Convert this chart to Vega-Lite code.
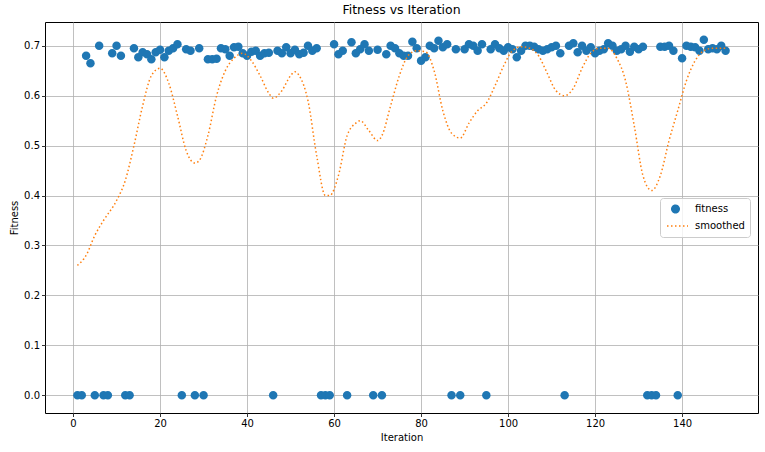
{
  "$schema": "https://vega.github.io/schema/vega-lite/v6.json",
  "width": 713,
  "height": 391,
  "autosize": {"type": "none"},
  "padding": {"left": 45, "top": 22, "right": 7, "bottom": 39},
  "title": {"text": "Fitness vs Iteration", "fontSize": 12.5, "fontWeight": "normal", "font": "DejaVu Sans", "offset": 6, "color": "black"},
  "config": {
    "view": {"stroke": "black", "strokeWidth": 1},
    "font": "DejaVu Sans",
    "axis": {"domain": false, "grid": true, "gridColor": "#b0b0b0", "gridWidth": 0.8, "tickColor": "black", "tickSize": 3.5, "tickWidth": 0.8, "labelFontSize": 10, "labelColor": "black", "titleFontSize": 10, "titleFontWeight": "normal", "titleColor": "black", "labelFont": "DejaVu Sans", "titleFont": "DejaVu Sans"},
    "legend": {"orient": "none", "legendX": 615, "legendY": 176, "fillColor": "rgba(255,255,255,0.8)", "strokeColor": "#cccccc", "cornerRadius": 3, "padding": 5, "labelFontSize": 10, "labelColor": "black", "labelFont": "DejaVu Sans", "labelOffset": 6, "symbolOffset": -3, "symbolSize": 625, "symbolStrokeWidth": 1.5, "clipHeight": 12, "rowPadding": 5}
  },
  "datasets": {
    "points": [
      {"iteration": 1, "fitness": 0}, {"iteration": 2, "fitness": 0}, {"iteration": 3, "fitness": 0.68}, {"iteration": 4, "fitness": 0.665},
      {"iteration": 5, "fitness": 0}, {"iteration": 6, "fitness": 0.70}, {"iteration": 7, "fitness": 0}, {"iteration": 8, "fitness": 0},
      {"iteration": 9, "fitness": 0.685}, {"iteration": 10, "fitness": 0.70}, {"iteration": 11, "fitness": 0.68}, {"iteration": 12, "fitness": 0},
      {"iteration": 13, "fitness": 0}, {"iteration": 14, "fitness": 0.695}, {"iteration": 15, "fitness": 0.677}, {"iteration": 16, "fitness": 0.687},
      {"iteration": 17, "fitness": 0.683}, {"iteration": 18, "fitness": 0.673}, {"iteration": 19, "fitness": 0.687}, {"iteration": 20, "fitness": 0.692},
      {"iteration": 21, "fitness": 0.677}, {"iteration": 22, "fitness": 0.69}, {"iteration": 23, "fitness": 0.695}, {"iteration": 24, "fitness": 0.703},
      {"iteration": 25, "fitness": 0}, {"iteration": 26, "fitness": 0.693}, {"iteration": 27, "fitness": 0.69}, {"iteration": 28, "fitness": 0},
      {"iteration": 29, "fitness": 0.695}, {"iteration": 30, "fitness": 0}, {"iteration": 31, "fitness": 0.673}, {"iteration": 32, "fitness": 0.673},
      {"iteration": 33, "fitness": 0.674}, {"iteration": 34, "fitness": 0.695}, {"iteration": 35, "fitness": 0.693}, {"iteration": 36, "fitness": 0.68},
      {"iteration": 37, "fitness": 0.697}, {"iteration": 38, "fitness": 0.698}, {"iteration": 39, "fitness": 0.685}, {"iteration": 40, "fitness": 0.68},
      {"iteration": 41, "fitness": 0.688}, {"iteration": 42, "fitness": 0.69}, {"iteration": 43, "fitness": 0.68}, {"iteration": 44, "fitness": 0.685},
      {"iteration": 45, "fitness": 0.686}, {"iteration": 46, "fitness": 0}, {"iteration": 47, "fitness": 0.69}, {"iteration": 48, "fitness": 0.685},
      {"iteration": 49, "fitness": 0.697}, {"iteration": 50, "fitness": 0.685}, {"iteration": 51, "fitness": 0.692}, {"iteration": 52, "fitness": 0.683},
      {"iteration": 53, "fitness": 0.686}, {"iteration": 54, "fitness": 0.70}, {"iteration": 55, "fitness": 0.69}, {"iteration": 56, "fitness": 0.695},
      {"iteration": 57, "fitness": 0}, {"iteration": 58, "fitness": 0}, {"iteration": 59, "fitness": 0}, {"iteration": 60, "fitness": 0.703},
      {"iteration": 61, "fitness": 0.683}, {"iteration": 62, "fitness": 0.69}, {"iteration": 63, "fitness": 0}, {"iteration": 64, "fitness": 0.707},
      {"iteration": 65, "fitness": 0.685}, {"iteration": 66, "fitness": 0.693}, {"iteration": 67, "fitness": 0.703}, {"iteration": 68, "fitness": 0.69},
      {"iteration": 69, "fitness": 0}, {"iteration": 70, "fitness": 0.692}, {"iteration": 71, "fitness": 0}, {"iteration": 72, "fitness": 0.683},
      {"iteration": 73, "fitness": 0.70}, {"iteration": 74, "fitness": 0.695}, {"iteration": 75, "fitness": 0.685}, {"iteration": 76, "fitness": 0.68},
      {"iteration": 77, "fitness": 0.68}, {"iteration": 78, "fitness": 0.708}, {"iteration": 79, "fitness": 0.695}, {"iteration": 80, "fitness": 0.67},
      {"iteration": 81, "fitness": 0.677}, {"iteration": 82, "fitness": 0.70}, {"iteration": 83, "fitness": 0.695}, {"iteration": 84, "fitness": 0.71},
      {"iteration": 85, "fitness": 0.697}, {"iteration": 86, "fitness": 0.703}, {"iteration": 87, "fitness": 0}, {"iteration": 88, "fitness": 0.693},
      {"iteration": 89, "fitness": 0}, {"iteration": 90, "fitness": 0.693}, {"iteration": 91, "fitness": 0.703}, {"iteration": 92, "fitness": 0.70},
      {"iteration": 93, "fitness": 0.69}, {"iteration": 94, "fitness": 0.703}, {"iteration": 95, "fitness": 0}, {"iteration": 96, "fitness": 0.693},
      {"iteration": 97, "fitness": 0.703}, {"iteration": 98, "fitness": 0.695}, {"iteration": 99, "fitness": 0.69}, {"iteration": 100, "fitness": 0.697},
      {"iteration": 101, "fitness": 0.693}, {"iteration": 102, "fitness": 0.677}, {"iteration": 103, "fitness": 0.69}, {"iteration": 104, "fitness": 0.70},
      {"iteration": 105, "fitness": 0.70}, {"iteration": 106, "fitness": 0.698}, {"iteration": 107, "fitness": 0.693}, {"iteration": 108, "fitness": 0.69},
      {"iteration": 109, "fitness": 0.693}, {"iteration": 110, "fitness": 0.697}, {"iteration": 111, "fitness": 0.70}, {"iteration": 112, "fitness": 0.685},
      {"iteration": 113, "fitness": 0}, {"iteration": 114, "fitness": 0.70}, {"iteration": 115, "fitness": 0.705}, {"iteration": 116, "fitness": 0.687},
      {"iteration": 117, "fitness": 0.70}, {"iteration": 118, "fitness": 0.69}, {"iteration": 119, "fitness": 0.697}, {"iteration": 120, "fitness": 0.685},
      {"iteration": 121, "fitness": 0.69}, {"iteration": 122, "fitness": 0.693}, {"iteration": 123, "fitness": 0.705}, {"iteration": 124, "fitness": 0.70},
      {"iteration": 125, "fitness": 0.69}, {"iteration": 126, "fitness": 0.693}, {"iteration": 127, "fitness": 0.70}, {"iteration": 128, "fitness": 0.688},
      {"iteration": 129, "fitness": 0.698}, {"iteration": 130, "fitness": 0.693}, {"iteration": 131, "fitness": 0.698}, {"iteration": 132, "fitness": 0},
      {"iteration": 133, "fitness": 0}, {"iteration": 134, "fitness": 0}, {"iteration": 135, "fitness": 0.698}, {"iteration": 136, "fitness": 0.698},
      {"iteration": 137, "fitness": 0.70}, {"iteration": 138, "fitness": 0.69}, {"iteration": 139, "fitness": 0}, {"iteration": 140, "fitness": 0.675},
      {"iteration": 141, "fitness": 0.70}, {"iteration": 142, "fitness": 0.698}, {"iteration": 143, "fitness": 0.697}, {"iteration": 144, "fitness": 0.69},
      {"iteration": 145, "fitness": 0.712}, {"iteration": 146, "fitness": 0.693}, {"iteration": 147, "fitness": 0.695}, {"iteration": 148, "fitness": 0.693},
      {"iteration": 149, "fitness": 0.70}, {"iteration": 150, "fitness": 0.69}
    ],
    "smooth": [
      {"iteration": 1, "smoothed": 0.26}, {"iteration": 3, "smoothed": 0.28}, {"iteration": 5, "smoothed": 0.32}, {"iteration": 7, "smoothed": 0.35},
      {"iteration": 10, "smoothed": 0.39}, {"iteration": 12, "smoothed": 0.43}, {"iteration": 14, "smoothed": 0.50}, {"iteration": 16, "smoothed": 0.58},
      {"iteration": 18, "smoothed": 0.64}, {"iteration": 20, "smoothed": 0.655}, {"iteration": 22, "smoothed": 0.625}, {"iteration": 24, "smoothed": 0.56},
      {"iteration": 26, "smoothed": 0.49}, {"iteration": 28, "smoothed": 0.465}, {"iteration": 29, "smoothed": 0.47}, {"iteration": 31, "smoothed": 0.52},
      {"iteration": 33, "smoothed": 0.60}, {"iteration": 35, "smoothed": 0.65}, {"iteration": 37, "smoothed": 0.675}, {"iteration": 39, "smoothed": 0.685},
      {"iteration": 41, "smoothed": 0.67}, {"iteration": 43, "smoothed": 0.64}, {"iteration": 45, "smoothed": 0.605}, {"iteration": 46, "smoothed": 0.595},
      {"iteration": 48, "smoothed": 0.61}, {"iteration": 50, "smoothed": 0.64}, {"iteration": 51, "smoothed": 0.648}, {"iteration": 52, "smoothed": 0.64},
      {"iteration": 54, "smoothed": 0.59}, {"iteration": 56, "smoothed": 0.48}, {"iteration": 58, "smoothed": 0.40}, {"iteration": 59, "smoothed": 0.40},
      {"iteration": 61, "smoothed": 0.44}, {"iteration": 63, "smoothed": 0.52}, {"iteration": 65, "smoothed": 0.545}, {"iteration": 66, "smoothed": 0.55},
      {"iteration": 68, "smoothed": 0.53}, {"iteration": 70, "smoothed": 0.51}, {"iteration": 71, "smoothed": 0.52}, {"iteration": 73, "smoothed": 0.58},
      {"iteration": 75, "smoothed": 0.64}, {"iteration": 77, "smoothed": 0.68}, {"iteration": 79, "smoothed": 0.69}, {"iteration": 81, "smoothed": 0.688},
      {"iteration": 83, "smoothed": 0.65}, {"iteration": 85, "smoothed": 0.57}, {"iteration": 87, "smoothed": 0.525}, {"iteration": 89, "smoothed": 0.515},
      {"iteration": 91, "smoothed": 0.545}, {"iteration": 93, "smoothed": 0.57}, {"iteration": 95, "smoothed": 0.585}, {"iteration": 97, "smoothed": 0.62},
      {"iteration": 99, "smoothed": 0.66}, {"iteration": 101, "smoothed": 0.69}, {"iteration": 103, "smoothed": 0.698}, {"iteration": 105, "smoothed": 0.695},
      {"iteration": 107, "smoothed": 0.68}, {"iteration": 109, "smoothed": 0.645}, {"iteration": 111, "smoothed": 0.61}, {"iteration": 113, "smoothed": 0.60},
      {"iteration": 115, "smoothed": 0.615}, {"iteration": 117, "smoothed": 0.655}, {"iteration": 119, "smoothed": 0.685}, {"iteration": 121, "smoothed": 0.695},
      {"iteration": 123, "smoothed": 0.695}, {"iteration": 125, "smoothed": 0.675}, {"iteration": 127, "smoothed": 0.63}, {"iteration": 129, "smoothed": 0.54},
      {"iteration": 131, "smoothed": 0.44}, {"iteration": 133, "smoothed": 0.41}, {"iteration": 135, "smoothed": 0.44}, {"iteration": 137, "smoothed": 0.51},
      {"iteration": 139, "smoothed": 0.57}, {"iteration": 141, "smoothed": 0.63}, {"iteration": 143, "smoothed": 0.67}, {"iteration": 145, "smoothed": 0.69},
      {"iteration": 147, "smoothed": 0.695}, {"iteration": 150, "smoothed": 0.695}
    ]
  },
  "layer": [
    {
      "data": {"name": "points"},
      "mark": {"type": "point", "filled": true, "opacity": 1, "size": 800},
      "encoding": {
        "x": {"field": "iteration", "type": "quantitative", "title": "Iteration", "scale": {"domain": [-6.45, 157.45], "nice": false, "zero": false}, "axis": {"values": [0, 20, 40, 60, 80, 100, 120, 140]}},
        "y": {"field": "fitness", "type": "quantitative", "title": "Fitness", "scale": {"domain": [-0.0356, 0.7476], "nice": false}, "axis": {"values": [0, 0.1, 0.2, 0.3, 0.4, 0.5, 0.6, 0.7], "format": ".1f"}},
        "color": {"datum": "fitness", "type": "nominal", "scale": {"domain": ["fitness", "smoothed"], "range": ["#1f77b4", "#ff7f0e"]}, "legend": {"title": null}},
        "shape": {"datum": "fitness", "type": "nominal", "scale": {"domain": ["fitness", "smoothed"], "range": ["M-0.3,0A0.3,0.3,0,1,0,0.3,0A0.3,0.3,0,1,0,-0.3,0Z", "M-1,0L1,0"]}, "legend": {"title": null}}
      }
    },
    {
      "data": {"name": "smooth"},
      "mark": {"type": "line", "strokeWidth": 1.5, "interpolate": "monotone"},
      "encoding": {
        "x": {"field": "iteration", "type": "quantitative"},
        "y": {"field": "smoothed", "type": "quantitative"},
        "color": {"datum": "smoothed", "type": "nominal"},
        "strokeDash": {"datum": "smoothed", "type": "nominal", "scale": {"domain": ["fitness", "smoothed"], "range": [[1, 0], [1.5, 2.5]]}, "legend": {"title": null}}
      }
    }
  ]
}
